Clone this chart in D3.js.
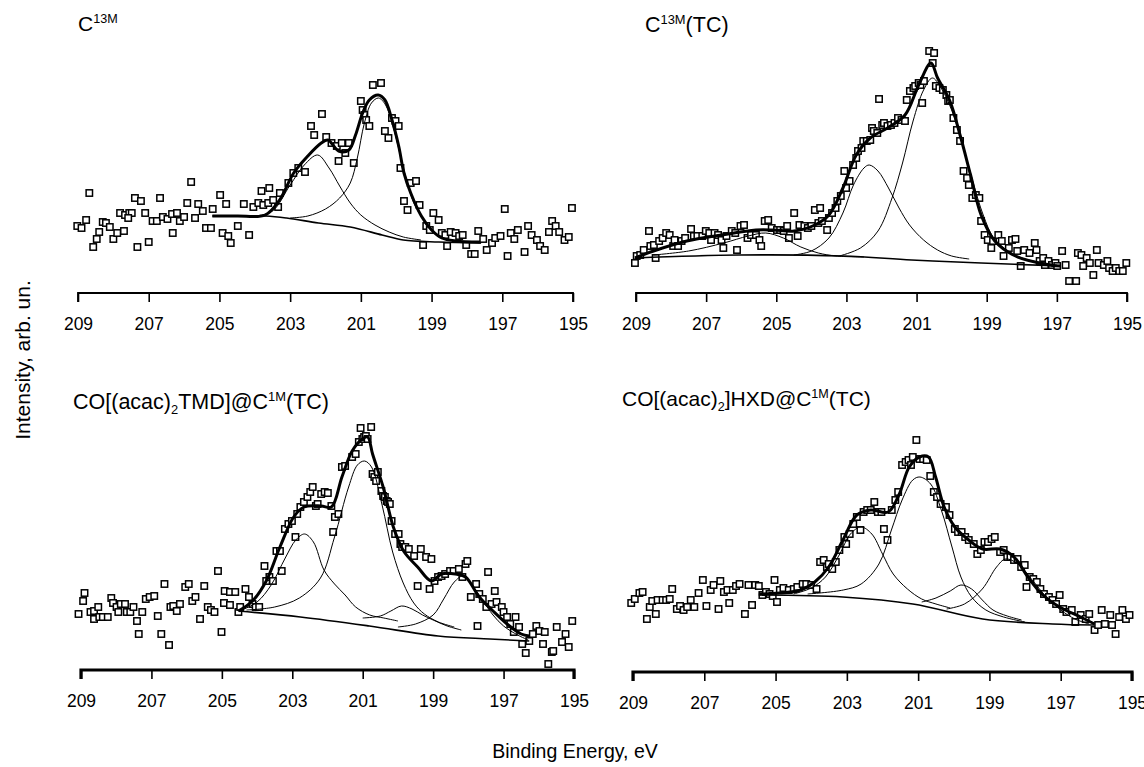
<!DOCTYPE html>
<html><head><meta charset="utf-8">
<script src="https://cdn.jsdelivr.net/npm/d3@7"></script>
<style>body{margin:0;background:#fff}svg{display:block}text{font-family:"Liberation Sans",Arial,Helvetica,sans-serif;fill:#000}</style>
</head><body><svg id="c" width="1144" height="767"></svg>
<script>
// ---------- DATA (binding energy eV, intensity arb. un.) ----------
const energyTicks = [209,207,205,203,201,199,197,195];
const panelTitles = [
  [["C",""],["13M","sup"]],
  [["C",""],["13M","sup"],["(TC)",""]],
  [["CO[(acac)",""],["2","sub"],["TMD]@C",""],["1M","sup"],["(TC)",""]],
  [["CO[(acac)",""],["2","sub"],["]HXD@C",""],["1M","sup"],["(TC)",""]]
];
const xLabel = "Binding Energy, eV";
const yLabel = "Intensity, arb. un.";

// Panel 1: C13M
const p1Points = [[208.68,100],[209.02,67],[208.9,65],[208.77,73],[208.57,46],[208.47,54],[208.4,61],[208.3,71],[208.21,70],[208.1,66],[208.0,54],[207.89,60],[207.7,62],[207.81,80],[207.67,78],[207.55,80],[207.48,80],[207.58,75],[207.39,95],[207.22,92],[207.32,46],[207.1,80],[207.0,51],[206.89,72],[206.77,72],[206.68,95],[206.6,76],[206.47,74],[206.34,79],[206.2,80],[206.12,72],[206.0,76],[206.32,60],[205.91,90],[205.8,111],[205.69,75],[205.6,89],[205.47,82],[205.38,65],[205.24,65],[205.19,84],[204.98,98],[204.81,89],[204.91,60],[204.75,57],[204.68,50],[204.48,67],[204.31,89],[204.16,58],[204.04,86],[203.9,90],[203.76,88],[203.62,90],[203.48,93],[203.34,86],[203.81,102],[203.59,105],[203.29,100],[203.05,110],[202.91,120],[202.77,125],[202.58,121],[202.41,167],[202.1,179],[202.32,158],[201.98,156],[201.83,150],[201.68,147],[201.54,150],[201.34,150],[201.44,140],[201.63,132],[201.2,130],[201.0,192],[200.95,183],[200.9,178],[200.85,173],[200.76,167],[200.66,208],[200.43,210],[200.32,162],[200.22,155],[200.12,175],[200.02,172],[199.93,167],[199.88,125],[199.59,110],[199.44,112],[199.78,92],[199.68,83],[199.34,88],[199.15,67],[199.05,63],[198.95,80],[198.8,73],[199.24,48],[198.71,60],[198.61,58],[198.46,61],[198.32,60],[198.22,57],[198.12,58],[198.56,47],[198.02,48],[197.88,39],[197.78,39],[197.68,62],[197.54,54],[197.44,43],[197.29,50],[197.2,55],[197.05,57],[196.93,84],[196.85,37],[196.76,60],[196.66,54],[196.56,63],[196.37,41],[196.27,67],[196.17,58],[196.02,53],[195.93,47],[195.8,43],[195.68,61],[195.59,72],[195.49,67],[195.39,61],[195.24,53],[195.12,56],[195.03,85]];
const p1Envelope = [[205.2,77],[204.5,77],[203.7,78],[203.3,93],[202.9,120],[202.5,137],[202.12,150],[201.93,153],[201.63,142],[201.34,143],[201.15,158],[200.95,180],[200.76,193],[200.51,198],[200.32,193],[200.12,173],[199.93,147],[199.78,120],[199.59,100],[199.29,77],[199.0,63],[198.71,55],[198.32,52],[197.63,51]];
const p1Background = [[205.2,77],[203.7,77],[203.1,75],[202.2,70],[201.3,66],[200.4,58],[199.8,53],[198.8,51],[197.6,50]];
const p1Peak1 = [[204.0,77],[203.5,82],[203.0,108],[202.6,128],[202.22,138],[201.9,125],[201.6,107],[201.3,90],[201.0,78],[200.6,68],[200.2,61],[199.8,56],[199.3,53]];
const p1Peak2 = [[203.0,75],[202.5,77],[202.0,84],[201.6,95],[201.3,110],[201.1,135],[200.9,170],[200.7,190],[200.5,195],[200.3,188],[200.1,168],[199.9,140],[199.7,112],[199.5,90],[199.2,72],[198.9,60],[198.5,53],[198.0,51],[197.6,50]];

// Panel 2: C13M(TC)
const p2Points = [[209.03,30],[208.98,37],[208.88,38],[208.78,43],[208.63,62],[208.59,47],[208.49,48],[208.44,35],[208.34,52],[208.24,55],[208.14,60],[208.04,58],[207.94,47],[207.90,53],[207.80,47],[207.70,52],[207.60,55],[207.43,64],[207.35,57],[207.25,57],[207.11,57],[207.01,62],[206.91,60],[206.86,53],[206.76,60],[206.66,58],[206.56,53],[206.51,45],[206.42,57],[206.27,62],[206.17,60],[206.12,43],[206.02,67],[205.92,68],[205.82,55],[205.72,58],[205.58,58],[205.48,53],[205.43,47],[205.33,72],[205.23,73],[205.13,65],[204.98,63],[204.89,63],[204.79,62],[204.69,67],[204.64,55],[204.49,80],[204.39,57],[204.34,68],[204.20,67],[204.10,65],[204.00,67],[203.90,83],[203.75,85],[203.80,70],[203.70,72],[203.55,63],[203.50,75],[203.41,80],[203.31,85],[203.26,92],[203.16,97],[203.06,122],[203.01,105],[202.91,112],[202.81,128],[202.72,135],[202.67,142],[202.57,145],[202.52,152],[202.42,152],[202.32,153],[202.27,165],[202.22,162],[202.12,160],[202.07,194],[201.98,168],[201.93,170],[201.83,167],[201.73,168],[201.63,170],[201.53,175],[201.43,173],[201.33,172],[201.28,193],[201.19,202],[201.09,205],[201.04,207],[200.94,210],[200.89,208],[200.84,190],[200.79,212],[200.64,242],[200.50,240],[200.54,230],[200.45,207],[200.35,205],[200.25,203],[200.15,198],[200.10,192],[200.05,193],[199.95,175],[199.85,163],[199.76,152],[199.66,122],[199.56,115],[199.51,108],[199.41,95],[199.31,98],[199.21,95],[199.16,72],[199.06,58],[198.97,53],[198.87,45],[198.82,52],[198.67,58],[198.57,52],[198.52,37],[198.37,45],[198.28,53],[198.18,54],[198.13,42],[198.03,27],[197.93,43],[197.78,40],[197.63,50],[197.58,43],[197.49,32],[197.39,35],[197.34,28],[197.24,32],[197.14,28],[197.04,30],[196.99,27],[196.85,42],[196.75,28],[196.65,12],[196.45,12],[196.40,40],[196.30,38],[196.25,27],[196.15,35],[196.06,30],[195.96,18],[195.86,43],[195.81,30],[195.66,28],[195.56,32],[195.51,25],[195.41,22],[195.32,25],[195.22,22],[195.12,22],[195.02,30]];
const p2Envelope = [[209.03,35],[208.5,42],[207.55,52],[206.56,58],[205.58,63],[205.08,63],[204.49,62],[203.9,68],[203.5,78],[203.1,105],[202.72,138],[202.32,155],[201.83,165],[201.33,178],[200.94,208],[200.59,230],[200.4,215],[200.05,192],[199.76,158],[199.46,118],[199.16,78],[198.77,52],[198.18,37],[197.19,28],[196.89,27]];
const p2Background = [[209.03,35],[206.07,38],[203.1,37],[201.14,33],[199.16,30],[196.89,27]];
const p2Peak1 = [[208.5,38],[207.5,42],[206.5,50],[205.8,57],[205.3,60],[204.8,55],[204.3,46],[203.8,40],[203.3,37],[202.5,36]];
const p2Peak2 = [[204.5,38],[204.0,42],[203.5,55],[203.1,80],[202.8,108],[202.5,125],[202.35,128],[202.1,122],[201.8,105],[201.5,85],[201.2,68],[200.8,53],[200.4,43],[200.0,37],[199.5,34]];
const p2Peak3 = [[203.2,37],[202.6,45],[202.1,62],[201.7,95],[201.4,130],[201.1,172],[200.8,203],[200.55,215],[200.3,205],[200.0,183],[199.7,150],[199.4,112],[199.1,78],[198.8,55],[198.4,42],[198.0,35],[197.4,30],[197.0,28]];

// Panel 3: CO[(acac)2TMD]@C1M(TC)
const p3Points = [[209.07,56],[208.94,69],[208.90,77],[208.73,58],[208.63,51],[208.63,59],[208.51,63],[208.48,53],[208.38,53],[208.24,53],[208.14,72],[208.09,67],[207.99,63],[207.94,58],[207.87,66],[207.75,66],[207.70,58],[207.60,58],[207.51,63],[207.41,49],[207.36,36],[207.26,58],[207.16,71],[207.05,73],[206.92,74],[206.82,54],[206.72,36],[206.63,86],[206.50,25],[206.46,63],[206.38,64],[206.28,59],[206.19,66],[206.04,83],[205.94,86],[205.84,69],[205.75,73],[205.62,51],[205.50,84],[205.40,63],[205.31,60],[205.21,58],[205.11,99],[205.01,38],[204.92,79],[204.77,78],[204.62,78],[204.94,67],[204.77,65],[204.53,58],[204.48,63],[204.33,81],[204.23,73],[204.13,66],[204.04,63],[203.94,63],[203.79,104],[203.74,89],[203.65,93],[203.55,89],[203.45,119],[203.35,119],[203.30,99],[203.21,141],[203.11,146],[203.01,149],[202.91,133],[202.86,156],[202.77,163],[202.67,168],[202.57,173],[202.49,178],[202.42,183],[202.33,164],[202.28,166],[202.18,176],[202.08,178],[201.99,177],[201.89,164],[201.79,153],[201.69,156],[201.84,138],[201.59,203],[201.50,204],[201.30,213],[201.20,216],[201.11,228],[201.01,231],[200.96,233],[200.91,234],[200.86,231],[200.76,243],[201.06,242],[200.72,196],[200.67,193],[200.62,189],[200.57,198],[200.47,179],[200.42,174],[200.37,173],[200.32,169],[200.28,168],[200.23,166],[200.18,149],[200.08,136],[199.98,136],[199.93,126],[199.88,123],[199.79,123],[199.69,121],[199.54,114],[199.44,84],[199.35,121],[199.20,113],[199.10,81],[199.05,111],[198.96,89],[198.86,93],[198.76,94],[198.66,96],[198.52,99],[198.42,99],[198.27,101],[198.17,93],[198.08,106],[198.03,109],[197.93,73],[197.78,86],[197.74,44],[197.69,76],[197.59,71],[197.49,63],[197.44,98],[197.34,66],[197.25,79],[197.20,68],[197.05,63],[197.00,58],[196.90,53],[196.81,46],[196.71,38],[196.66,53],[196.56,43],[196.47,26],[196.37,17],[196.27,29],[196.17,36],[196.07,44],[195.98,39],[195.88,26],[195.83,38],[195.73,6],[195.63,18],[195.59,19],[195.49,43],[195.34,28],[195.24,36],[195.15,23],[195.05,49]];
const p3Envelope = [[204.53,59],[204.13,69],[203.74,89],[203.35,123],[202.96,153],[202.67,163],[202.18,164],[201.89,163],[201.59,193],[201.3,219],[201.01,231],[200.86,233],[200.72,216],[200.42,183],[200.13,143],[199.84,119],[199.44,103],[199.05,89],[198.76,96],[198.37,96],[198.08,93],[197.69,73],[197.3,59],[196.9,46],[196.5,36],[196.27,34]];
const p3Background = [[204.53,59],[202.77,53],[200.81,44],[198.86,34],[197.39,31],[196.27,29]];
const p3Peak1 = [[204.5,59],[204.0,68],[203.6,85],[203.2,112],[202.9,130],[202.65,136],[202.4,128],[202.1,100],[201.8,86],[201.5,75],[201.2,63],[200.8,55],[200.4,52],[200.0,49]];
const p3Peak2 = [[204.3,60],[203.5,63],[202.8,72],[202.2,92],[201.8,133],[201.4,183],[201.15,205],[200.95,209],[200.75,203],[200.45,165],[200.15,118],[199.85,87],[199.55,67],[199.25,56],[198.85,48],[198.4,43]];
const p3Peak3 = [[201.0,52],[200.5,54],[200.2,59],[199.9,64],[199.6,61],[199.3,55],[199.0,50],[198.6,44],[198.2,40]];
const p3Peak4 = [[200.0,43],[199.5,46],[199.0,55],[198.7,71],[198.4,88],[198.15,94],[197.9,85],[197.6,70],[197.3,55],[197.0,44],[196.6,35],[196.3,30]];

// Panel 4: CO[(acac)2]HXD@C1M(TC)
const p4Points = [[209.05,69],[208.95,73],[208.82,79],[208.73,80],[208.61,53],[208.53,65],[208.46,71],[208.36,58],[208.31,72],[208.17,72],[208.07,72],[207.97,73],[207.90,83],[207.77,63],[207.68,66],[207.58,62],[207.48,65],[207.38,72],[207.28,65],[207.16,79],[207.04,92],[206.94,66],[206.82,82],[206.74,87],[206.60,63],[206.55,91],[206.45,80],[206.35,82],[206.30,69],[206.20,82],[206.11,86],[206.01,88],[205.86,58],[205.76,87],[205.66,67],[205.57,87],[205.47,86],[205.37,77],[205.27,80],[205.17,78],[205.08,76],[205.03,92],[204.96,70],[204.88,82],[204.78,84],[204.63,82],[204.49,83],[204.39,85],[204.24,88],[204.14,88],[204.00,87],[203.85,83],[203.75,110],[203.65,112],[203.56,105],[203.51,108],[203.41,103],[203.31,110],[203.21,122],[203.07,135],[203.02,128],[202.92,138],[202.82,148],[202.72,155],[202.62,142],[202.53,160],[202.43,162],[202.33,162],[202.23,170],[202.13,160],[202.03,160],[201.96,143],[201.86,132],[201.74,162],[201.64,172],[201.56,180],[201.45,207],[201.35,210],[201.27,212],[201.20,207],[201.15,215],[201.05,232],[200.96,213],[200.86,213],[200.76,212],[200.66,196],[200.56,180],[200.47,175],[200.37,168],[200.22,165],[200.12,157],[199.97,143],[199.88,140],[199.78,140],[199.68,135],[199.58,132],[199.44,128],[199.34,118],[199.24,122],[199.14,130],[199.04,130],[198.94,133],[198.85,135],[198.70,120],[198.60,122],[198.50,115],[198.41,115],[198.31,112],[198.21,113],[198.11,105],[198.01,107],[197.96,85],[197.87,95],[197.77,93],[197.67,90],[197.57,83],[197.47,78],[197.33,75],[197.23,72],[197.13,68],[197.03,77],[196.93,63],[196.84,60],[196.69,62],[196.59,50],[196.44,57],[196.30,53],[196.20,58],[196.05,42],[195.95,47],[195.85,62],[195.76,48],[195.61,57],[195.56,47],[195.46,38],[195.36,55],[195.27,62],[195.17,53],[195.07,57]];
const p4Envelope = [[205.47,78],[204.88,79],[204.29,82],[203.9,90],[203.51,105],[203.11,132],[202.72,157],[202.33,162],[201.84,160],[201.54,177],[201.25,205],[200.96,215],[200.71,215],[200.51,195],[200.27,165],[199.97,145],[199.58,132],[199.19,123],[198.7,123],[198.31,115],[197.92,95],[197.53,78],[197.03,65],[196.44,55],[196.05,48]];
const p4Background = [[205.47,77],[203.11,75],[201.15,68],[199.19,53],[197.23,48],[196.05,47]];
const p4Peak1 = [[204.5,78],[204.0,84],[203.6,95],[203.2,118],[202.9,138],[202.6,145],[202.3,138],[202.0,118],[201.7,98],[201.3,83],[200.9,73],[200.5,68],[200.1,64]];
const p4Peak2 = [[204.1,78],[203.1,82],[202.6,88],[202.1,108],[201.75,142],[201.45,172],[201.15,192],[200.95,195],[200.65,188],[200.35,162],[200.05,125],[199.8,95],[199.5,75],[199.1,62],[198.6,55],[198.0,50]];
const p4Peak3 = [[200.9,70],[200.5,74],[200.1,81],[199.8,87],[199.5,83],[199.2,72],[198.9,62],[198.5,56],[198.1,52]];
const p4Peak4 = [[200.2,63],[199.7,68],[199.2,83],[198.8,105],[198.55,113],[198.2,108],[197.8,92],[197.4,75],[197.0,62],[196.6,53],[196.2,48]];

// ---------- LAYOUT ----------
const panels = [
  {pts:p1Points, env:p1Envelope, bg:p1Background, peaks:[p1Peak1,p1Peak2], x0:78, x1:573, ay:293, aw:1.8, tx:78, ty:31, tfs:21},
  {pts:p2Points, env:p2Envelope, bg:p2Background, peaks:[p2Peak1,p2Peak2,p2Peak3], x0:636, x1:1127, ay:293, aw:1.8, tx:645, ty:32, tfs:21.5},
  {pts:p3Points, env:p3Envelope, bg:p3Background, peaks:[p3Peak1,p3Peak2,p3Peak3,p3Peak4], x0:81, x1:574, ay:670, aw:3.2, tx:73, ty:409, tfs:21.5},
  {pts:p4Points, env:p4Envelope, bg:p4Background, peaks:[p4Peak1,p4Peak2,p4Peak3,p4Peak4], x0:633, x1:1132, ay:672, aw:3.2, tx:622, ty:406, tfs:21}
];

const svg = d3.select("#c");

panels.forEach((p, i) => {
  const x = d3.scaleLinear().domain([209,195]).range([p.x0, p.x1]);
  const y = d3.scaleLinear().domain([0,250]).range([p.ay, p.ay-250]);
  const g = svg.append("g");
  const line = d3.line().x(d=>x(d[0])).y(d=>y(d[1])).curve(d3.curveCatmullRom.alpha(0.5));

  // axis
  const axis = d3.axisBottom(x).tickValues(energyTicks).tickSize(9).tickPadding(16).tickFormat(d3.format("d"));
  const ag = g.append("g").attr("transform",`translate(0,${p.ay})`).call(axis);
  ag.select(".domain").attr("stroke","#000").attr("stroke-width",p.aw).attr("d",`M${p.x0},9V0H${p.x1}V9`);
  ag.selectAll(".tick line").attr("stroke","#000").attr("stroke-width",1.6);
  ag.selectAll(".tick text").attr("font-size",17.5).attr("font-family",'"Liberation Sans",Arial,sans-serif').attr("fill","#000");

  // data points
  g.append("g").selectAll("rect").data(p.pts).join("rect")
    .attr("x",d=>x(d[0])-3.2).attr("y",d=>y(d[1])-3.2).attr("width",6.4).attr("height",6.4)
    .attr("fill","#fff").attr("stroke","#000").attr("stroke-width",1.5);

  // background
  g.append("path").attr("d",line(p.bg)).attr("fill","none").attr("stroke","#000").attr("stroke-width",1.6);
  // components
  p.peaks.forEach(pk => g.append("path").attr("d",line(pk)).attr("fill","none").attr("stroke","#000").attr("stroke-width",1));
  // envelope
  g.append("path").attr("d",line(p.env)).attr("fill","none").attr("stroke","#000").attr("stroke-width",3).attr("stroke-linejoin","round");

  // title
  const t = svg.append("text").attr("x",p.tx).attr("y",p.ty).attr("font-size",p.tfs);
  let prev = "";
  panelTitles[i].forEach(([s,kind]) => {
    const ts = t.append("tspan").text(s);
    let dy = 0;
    if (kind==="sup") { ts.attr("font-size",p.tfs*0.6); dy = -8; }
    if (kind==="sub") { ts.attr("font-size",p.tfs*0.6); dy = 5; }
    const back = prev==="sup" ? 8 : prev==="sub" ? -5 : 0;
    if (dy+back !== 0) ts.attr("dy", dy+back);
    prev = kind;
  });
});

svg.append("text").attr("x",575).attr("y",758).attr("text-anchor","middle").attr("font-size",19.5).text(xLabel);
svg.append("text").attr("transform","translate(30,360) rotate(-90)").attr("text-anchor","middle").attr("font-size",21).text(yLabel);
</script></body></html>
